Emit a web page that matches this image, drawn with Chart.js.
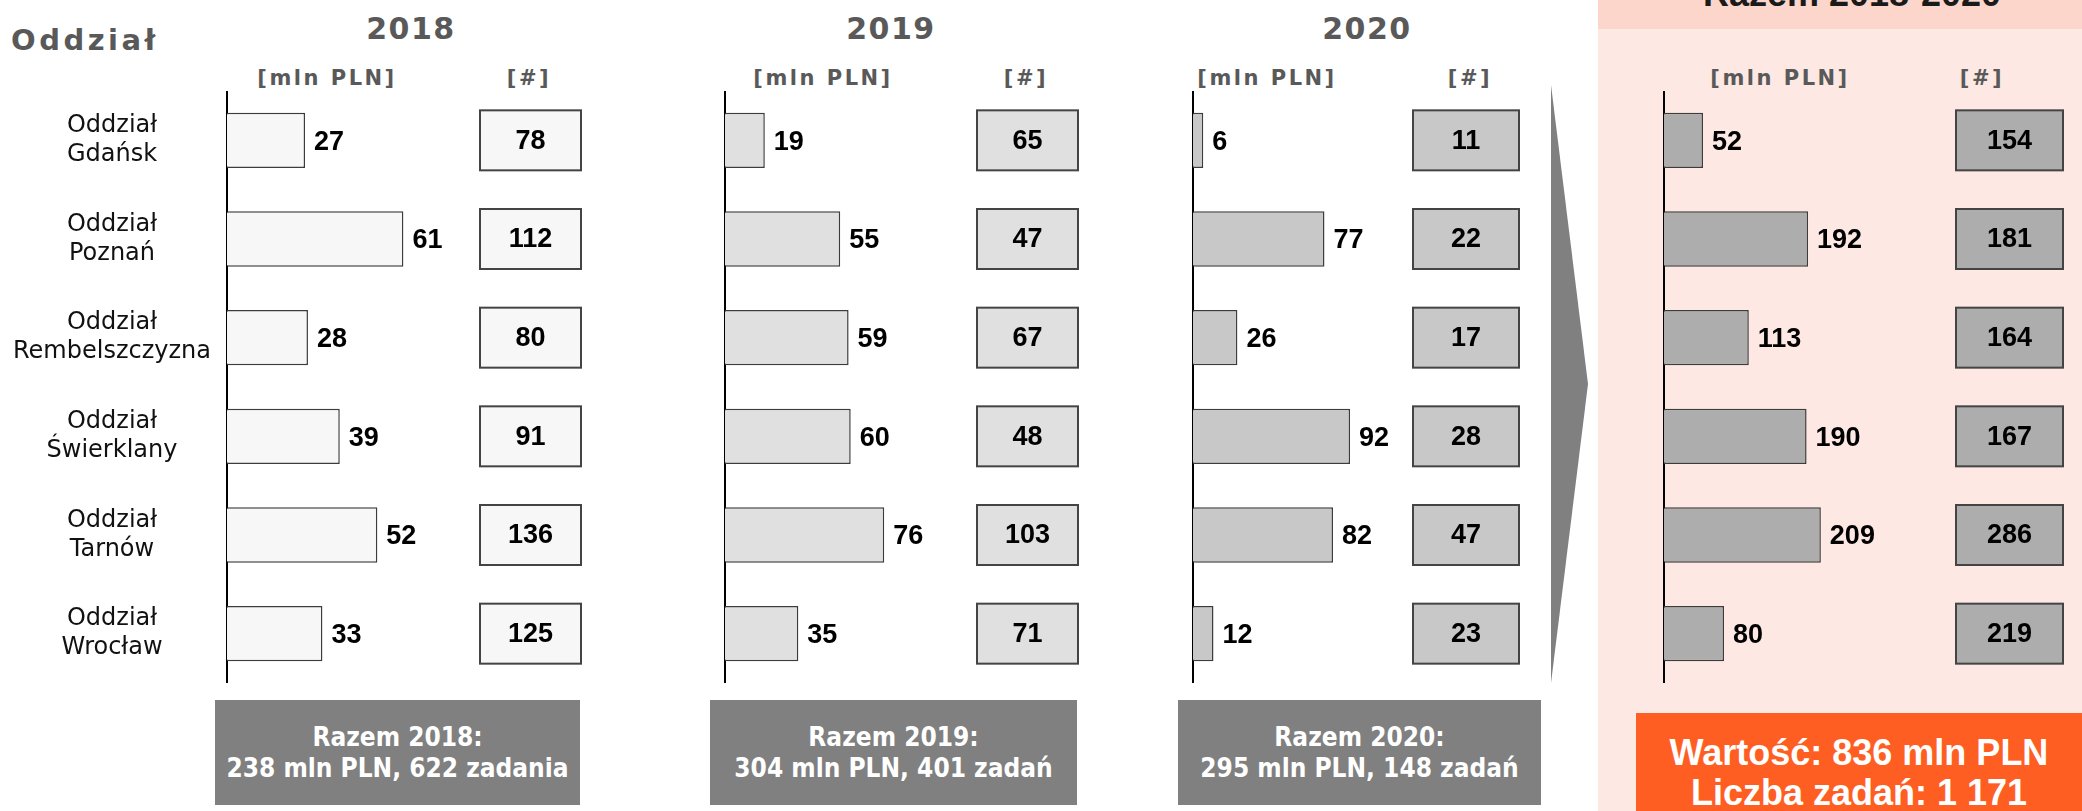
<!DOCTYPE html>
<html lang="pl">
<head>
<meta charset="utf-8">
<title>Oddziały 2018–2020</title>
<script src="https://cdn.jsdelivr.net/npm/chart.js@4.4.1/dist/chart.umd.min.js"></script>
<style>
  html, body { margin: 0; padding: 0; }
  body { width: 2082px; height: 811px; position: relative; overflow: hidden; background: #fff; font-family: "DejaVu Sans", sans-serif; }
  .abs { position: absolute; white-space: nowrap; }
  .total-bg { left: 1598px; top: 0; width: 484px; height: 811px; background: #fde8e3; }
  .total-band { left: 1598px; top: 0; width: 484px; height: 29px; background: #fcd6cb; }
  .total-title { left: 1852px; top: -24px; transform: translateX(-50%); font: bold 36px/36px "Liberation Sans", Arial, sans-serif; color: #1a1a1a; }
  .head { color: #595959; font-weight: bold; transform: translateX(-50%); text-align: center; }
  .branch-head { left: 11px; top: 23px; font-size: 29px; line-height: 34px; letter-spacing: 3.5px; color: #595959; font-weight: bold; }
  .year { top: 12px; font-size: 30px; line-height: 34px; letter-spacing: 1.5px; }
  .unit { top: 66px; font-size: 21px; line-height: 24px; letter-spacing: 2.5px; }
  .sum { top: 700px; height: 105px; background: #808080; color: #fff; display: flex; align-items: center; justify-content: center; text-align: center;
         font-family: "DejaVu Sans Condensed", "DejaVu Sans", sans-serif; font-stretch: condensed; font-weight: bold; font-size: 26px; line-height: 31px; }
  .grand { left: 1636px; top: 713px; width: 446px; height: 98px; background: #ff5e22; color: #fff; text-align: center; box-sizing: border-box; padding-top: 20px;
           font: bold 36px/40px "Liberation Sans", Arial, sans-serif; }
  canvas { position: absolute; top: 91px; }
</style>
</head>
<body>
<div class="abs total-bg"></div>
<div class="abs total-band"></div>
<div class="abs total-title" id="total-title"></div>

<div class="abs branch-head">Oddział</div>
<div id="heads"></div>

<svg class="abs" style="left:0;top:0" width="2082" height="811">
  <polygon points="1551,85 1588,384 1551,683" fill="#808080"/>
</svg>

<canvas id="c2018" width="600" height="592" style="left:0px"></canvas>
<canvas id="c2019" width="385" height="592" style="left:715px"></canvas>
<canvas id="c2020" width="360" height="592" style="left:1183px"></canvas>
<canvas id="cTotal" width="428" height="592" style="left:1654px"></canvas>

<div id="sums"></div>
<div class="abs grand" id="grand"></div>

<script>
const branches = [
  ['Oddział', 'Gdańsk'],
  ['Oddział', 'Poznań'],
  ['Oddział', 'Rembelszczyzna'],
  ['Oddział', 'Świerklany'],
  ['Oddział', 'Tarnów'],
  ['Oddział', 'Wrocław'],
];
const years = ['2018', '2019', '2020'];

// wartość [mln PLN] i liczba zadań [#]
const value2018 = [27, 61, 28, 39, 52, 33];
const count2018 = [78, 112, 80, 91, 136, 125];
const value2019 = [19, 55, 59, 60, 76, 35];
const count2019 = [65, 47, 67, 48, 103, 71];
const value2020 = [6, 77, 26, 92, 82, 12];
const count2020 = [11, 22, 17, 28, 47, 23];
const valueTotal = [52, 192, 113, 190, 209, 80];
const countTotal = [154, 181, 164, 167, 286, 219];

// podsumowania roczne, tak jak na slajdzie
const yearValue = [238, 304, 295];
const yearCount = [622, 401, 148];
const grandValue = 836;
const grandCount = 1171;

const groupThousands = n => String(n).replace(/\B(?=(\d{3})+(?!\d))/g, ' ');
function zadan(n) {
  const d = n % 10, dd = n % 100;
  if (n === 1) return 'zadanie';
  if (d >= 2 && d <= 4 && !(dd >= 12 && dd <= 14)) return 'zadania';
  return 'zadań';
}

// nagłówki kolumn
const headPos = [
  { title: 411, unit: 327, count: 529 },
  { title: 891, unit: 823, count: 1026 },
  { title: 1367, unit: 1267, count: 1470 },
  { title: null, unit: 1780, count: 1982 },
];
document.getElementById('heads').innerHTML = headPos.map((h, i) => `
  ${h.title ? `<div class="abs head year" style="left:${h.title}px">${years[i]}</div>` : ''}
  <div class="abs head unit" style="left:${h.unit}px">[mln PLN]</div>
  <div class="abs head unit" style="left:${h.count}px">[#]</div>
`).join('');
document.getElementById('total-title').textContent = `Razem ${years[0]}-${years[years.length - 1]}`;

const sumBoxes = [{ left: 215, width: 365 }, { left: 710, width: 367 }, { left: 1178, width: 363 }];
document.getElementById('sums').innerHTML = sumBoxes.map((b, i) => `
  <div class="abs sum" style="left:${b.left}px;width:${b.width}px">
    <div>Razem ${years[i]}:<br>${yearValue[i]} mln PLN, ${yearCount[i]} ${zadan(yearCount[i])}</div>
  </div>
`).join('');
document.getElementById('grand').innerHTML =
  `Wartość: ${grandValue} mln PLN<br>Liczba zadań: ${groupThousands(grandCount)}`;

const numFont = 'bold 27px "Liberation Sans", Arial, sans-serif';

const rowDecor = {
  id: 'rowDecor',
  afterDatasetsDraw(chart, args, opts) {
    const ctx = chart.ctx;
    const meta = chart.getDatasetMeta(0);
    const ds = chart.data.datasets[0];
    ctx.save();
    ctx.textBaseline = 'middle';
    meta.data.forEach((bar, i) => {
      ctx.font = numFont;
      ctx.fillStyle = '#000';
      ctx.textAlign = 'left';
      ctx.fillText(ds.data[i], bar.x + 9, bar.y + 2);

      const top = bar.y - 30;
      ctx.fillStyle = ds.backgroundColor;
      ctx.fillRect(opts.boxX, top, opts.boxW, 60);
      ctx.lineWidth = 2;
      ctx.strokeStyle = '#444';
      ctx.strokeRect(opts.boxX, top, opts.boxW, 60);
      ctx.fillStyle = '#000';
      ctx.textAlign = 'center';
      ctx.fillText(opts.counts[i], opts.boxX + opts.boxW / 2, bar.y + 1);
    });
    if (opts.showLabels) {
      const y = chart.scales.y;
      ctx.font = '24px "DejaVu Sans", sans-serif';
      ctx.fillStyle = '#111';
      ctx.textAlign = 'center';
      branches.forEach((lines, i) => {
        const cy = y.getPixelForValue(i);
        lines.forEach((line, k) => {
          ctx.fillText(line, 112, cy + (k - (lines.length - 1) / 2) * 29);
        });
      });
    }
    ctx.restore();
  }
};

const panels = [
  { id: 'c2018', values: value2018, counts: count2018, fill: '#f7f7f7', axisW: 227, max: 129, boxX: 480, boxW: 101, showLabels: true },
  { id: 'c2019', values: value2019, counts: count2019, fill: '#e0e0e0', axisW: 10, max: 179, boxX: 262, boxW: 101 },
  { id: 'c2020', values: value2020, counts: count2020, fill: '#c8c8c8', axisW: 10, max: 205, boxX: 230, boxW: 106 },
  { id: 'cTotal', values: valueTotal, counts: countTotal, fill: '#adadad', axisW: 10, max: 557, boxX: 302, boxW: 107 },
];

panels.forEach(p => {
  new Chart(document.getElementById(p.id), {
    type: 'bar',
    data: {
      labels: branches.map(b => b.join(' ')),
      datasets: [{
        data: p.values,
        backgroundColor: p.fill,
        borderColor: '#3c3c3c',
        borderWidth: 1.5,
        borderSkipped: 'start',
        barPercentage: 0.56,
        categoryPercentage: 1,
      }],
    },
    options: {
      indexAxis: 'y',
      responsive: false,
      animation: false,
      devicePixelRatio: 1,
      layout: { padding: 0 },
      plugins: {
        legend: { display: false },
        tooltip: { enabled: false },
        rowDecor: { counts: p.counts, boxX: p.boxX, boxW: p.boxW, showLabels: !!p.showLabels },
      },
      scales: {
        x: { display: false, min: 0, max: p.max },
        y: {
          grid: { display: false, drawTicks: false },
          ticks: { display: false },
          border: { display: true, color: '#000', width: 2 },
          afterFit: s => { s.width = p.axisW; },
        },
      },
    },
    plugins: [rowDecor],
  });
});
</script>
</body>
</html>
